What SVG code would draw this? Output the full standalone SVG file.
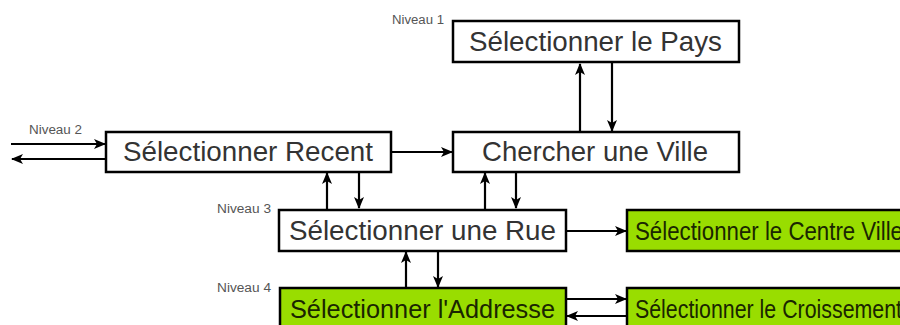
<svg xmlns="http://www.w3.org/2000/svg" width="900" height="325" viewBox="0 0 900 325">
<style>
.box{fill:#fff;stroke:#000;stroke-width:2.5}
.green{fill:#99dd00;stroke:#000;stroke-width:2.5}
.t{font-family:"Liberation Sans",Arial,sans-serif;font-size:27.5px;fill:#333}
.tg{font-family:"Liberation Sans",Arial,sans-serif;font-size:25px;fill:#1a2600}
.lvl{font-family:"Liberation Sans",Arial,sans-serif;font-size:12px;fill:#555}
.c line{stroke:#000;stroke-width:2.2;marker-end:url(#ah)}
</style>
<defs>
<marker id="ah" viewBox="0 0 12 10" refX="11" refY="5" markerWidth="13" markerHeight="10" markerUnits="userSpaceOnUse" orient="auto">
<path d="M0,0 L12,5 L0,10 L3,5 Z" fill="#000"/>
</marker>
</defs>
<rect width="900" height="325" fill="#fff"/>
<text class="lvl" x="392" y="24" textLength="52" lengthAdjust="spacingAndGlyphs">Niveau 1</text>
<text class="lvl" x="29" y="134" textLength="53" lengthAdjust="spacingAndGlyphs">Niveau 2</text>
<text class="lvl" x="217" y="213" textLength="54" lengthAdjust="spacingAndGlyphs">Niveau 3</text>
<text class="lvl" x="217" y="292" textLength="54" lengthAdjust="spacingAndGlyphs">Niveau 4</text>
<g class="c" id="connectors">
<line x1="580" y1="132" x2="580" y2="64"/>
<line x1="612" y1="63" x2="612" y2="131"/>
<line x1="391" y1="152" x2="452" y2="152"/>
<line x1="327" y1="209" x2="327" y2="173"/>
<line x1="359" y1="172" x2="359" y2="208"/>
<line x1="485" y1="209" x2="485" y2="173"/>
<line x1="516" y1="172" x2="516" y2="208"/>
<line x1="566" y1="231" x2="626" y2="231"/>
<line x1="406" y1="288" x2="406" y2="252"/>
<line x1="438" y1="251" x2="438" y2="287"/>
<line x1="566" y1="299" x2="626" y2="299"/>
<line x1="627" y1="316" x2="567" y2="316"/>
<line x1="11" y1="144" x2="105" y2="144"/>
<line x1="106" y1="159" x2="12" y2="159"/>
</g>
<g id="pays">
<rect class="box" x="453" y="21" width="286" height="41"/>
<text class="t" x="469" y="51" textLength="253" lengthAdjust="spacingAndGlyphs">Sélectionner le Pays</text>
</g>
<g id="ville">
<rect class="box" x="453" y="132" width="286" height="40"/>
<text class="t" x="482" y="161" textLength="226" lengthAdjust="spacingAndGlyphs">Chercher une Ville</text>
</g>
<g id="recent">
<rect class="box" x="106" y="132" width="285" height="40"/>
<text class="t" x="123" y="161" textLength="250" lengthAdjust="spacingAndGlyphs">Sélectionner Recent</text>
</g>
<g id="rue">
<rect class="box" x="279" y="210" width="287" height="41"/>
<text class="t" x="289" y="240" textLength="267" lengthAdjust="spacingAndGlyphs">Sélectionner une Rue</text>
</g>
<g id="centre">
<rect class="green" x="627" y="210" width="290" height="41"/>
<text class="tg" x="635" y="240" textLength="268" lengthAdjust="spacingAndGlyphs">Sélectionner le Centre Ville</text>
</g>
<g id="addresse">
<rect class="green" x="280" y="288" width="286" height="50"/>
<text class="tg" x="290" y="318" textLength="265" lengthAdjust="spacingAndGlyphs">Sélectionner l'Addresse</text>
</g>
<g id="croissement">
<rect class="green" x="627" y="288" width="290" height="50"/>
<text class="tg" x="635" y="318" textLength="267" lengthAdjust="spacingAndGlyphs">Sélectionner le Croissement</text>
</g>
</svg>
